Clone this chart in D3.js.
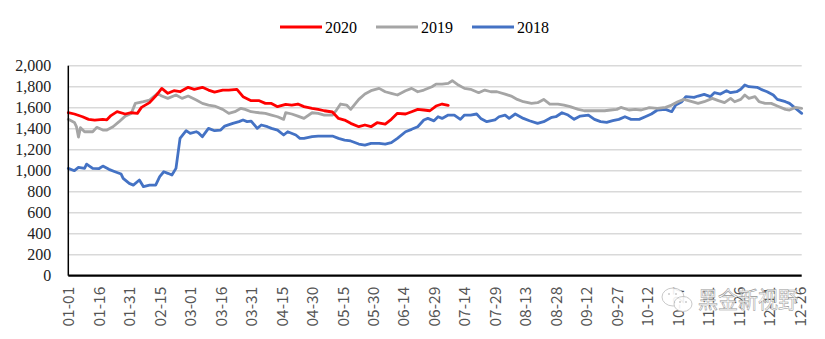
<!DOCTYPE html>
<html>
<head>
<meta charset="utf-8">
<script src="https://cdn.jsdelivr.net/npm/d3@7/dist/d3.min.js"></script>
<style>
  html, body { margin: 0; padding: 0; background: #fff; }
  svg { display: block; }
</style>
</head>
<body>
<svg id="chart" width="825" height="339"></svg>
<script>
// Day offsets from 01-01 and daily readings for each year
const seriesNames = ["2020", "2019", "2018"];
const seriesColors = ["#FF0000", "#A5A5A5", "#4472C4"];

const days2020 = [0,3,7,10,13,17,19,21,24,28,31,34,36,40,43,46,49,52,55,59,62,66,69,72,76,79,83,86,90,94,97,100,103,107,110,113,116,120,123,126,130,133,136,139,143,146,149,152,156,159,162,166,169,172,175,178,181,184,187];
const values2020 = [1552,1540,1514,1489,1482,1489,1485,1525,1562,1540,1552,1546,1603,1648,1711,1784,1737,1762,1752,1794,1775,1794,1768,1749,1768,1768,1775,1705,1667,1667,1641,1641,1610,1632,1625,1635,1610,1594,1584,1571,1559,1498,1482,1451,1419,1435,1419,1457,1444,1489,1546,1540,1562,1584,1578,1571,1616,1635,1622];

const days2019 = [0,3,4,5,6,8,12,14,17,19,22,25,28,31,33,37,40,44,46,49,53,56,59,63,66,69,72,76,79,82,85,87,90,94,97,100,103,106,107,110,113,116,120,123,126,130,132,134,137,139,143,146,149,153,156,159,162,166,169,172,175,179,181,184,187,189,192,195,198,202,205,208,211,215,218,221,224,228,231,234,237,241,244,247,251,254,257,261,264,267,270,272,276,279,282,286,290,294,297,300,303,307,310,313,317,320,323,326,328,331,333,335,338,340,343,346,349,353,355,358,361];
const values2019 = [1489,1460,1420,1320,1410,1371,1371,1413,1387,1387,1419,1467,1520,1546,1641,1657,1673,1737,1711,1689,1721,1689,1711,1673,1641,1625,1616,1584,1546,1562,1594,1584,1562,1552,1546,1530,1514,1489,1552,1540,1520,1498,1552,1546,1530,1530,1578,1635,1625,1584,1679,1730,1762,1784,1752,1737,1721,1762,1784,1752,1768,1800,1825,1825,1832,1857,1816,1784,1775,1743,1768,1752,1752,1730,1711,1679,1657,1641,1648,1679,1635,1635,1625,1610,1584,1571,1571,1571,1571,1578,1584,1603,1578,1584,1578,1600,1594,1603,1625,1657,1679,1657,1641,1657,1689,1667,1648,1689,1657,1679,1721,1689,1705,1657,1641,1641,1616,1584,1578,1603,1594];

const days2018 = [0,3,5,8,9,12,15,17,20,23,26,27,30,32,35,37,40,43,45,47,49,51,53,54,55,58,60,63,64,66,69,72,75,77,81,84,86,88,90,93,95,98,100,103,106,108,112,114,116,120,123,126,130,133,136,139,143,146,149,153,156,159,162,166,169,172,175,177,180,182,184,187,190,193,195,198,201,203,206,210,212,215,217,220,224,227,231,234,238,240,243,246,249,252,256,259,262,265,268,271,274,277,281,284,287,290,294,297,299,302,304,308,310,313,316,318,321,324,326,329,331,333,335,339,341,344,347,349,353,355,358,361];
const values2018 = [1022,1000,1032,1022,1063,1022,1019,1044,1013,990,968,927,879,863,911,848,863,863,943,990,975,959,1022,1165,1308,1381,1356,1371,1362,1324,1403,1381,1387,1425,1451,1467,1483,1467,1473,1403,1435,1419,1403,1387,1340,1371,1340,1308,1308,1324,1330,1330,1330,1308,1292,1283,1254,1244,1260,1260,1254,1267,1308,1371,1394,1419,1483,1498,1475,1514,1498,1530,1530,1489,1530,1530,1540,1498,1467,1483,1514,1530,1498,1540,1498,1476,1451,1467,1508,1514,1552,1530,1489,1520,1530,1489,1467,1460,1476,1489,1514,1489,1489,1514,1540,1578,1584,1562,1625,1657,1705,1698,1711,1727,1705,1743,1730,1762,1743,1752,1775,1816,1800,1794,1775,1752,1721,1679,1657,1641,1594,1546];

// Axis settings
const yTicks = [0,200,400,600,800,1000,1200,1400,1600,1800,2000];
const xTickLabels = ["01-01","01-16","01-31","02-15","03-01","03-16","03-31","04-15","04-30","05-15","05-30","06-14","06-29","07-14","07-29","08-13","08-28","09-12","09-27","10-12","10-27","11-11","11-26","12-11","12-26"];
const xTickStep = 15;
const lastDay = 361;
const watermarkText = "黑金新视野";

const dayArrays = [days2020, days2019, days2018];
const valueArrays = [values2020, values2019, values2018];

const svg = d3.select("#chart");

const plot = { left: 68.3, right: 801.7, top: 65.7, bottom: 275.7 };

const x = d3.scaleLinear().domain([0, lastDay]).range([plot.left, plot.right]);
const y = d3.scaleLinear().domain([0, 2000]).range([plot.bottom, plot.top]);

// Horizontal gridlines
svg.append("g")
  .selectAll("line")
  .data(yTicks.filter(t => t > 0))
  .join("line")
  .attr("x1", plot.left)
  .attr("x2", plot.right)
  .attr("y1", d => y(d))
  .attr("y2", d => y(d))
  .attr("stroke", "#d9d9d9")
  .attr("stroke-width", 1.4);

// Y axis labels
const yAxis = d3.axisLeft(y)
  .tickValues(yTicks)
  .tickFormat(d3.format(","))
  .tickSize(0)
  .tickPadding(17);
const gy = svg.append("g")
  .attr("transform", `translate(${plot.left},0)`)
  .call(yAxis);
gy.select(".domain").remove();
gy.selectAll("text")
  .attr("font-family", "'Liberation Serif', 'Times New Roman', serif")
  .attr("font-size", 16)
  .attr("fill", "#222");

// Series lines
const line = d3.line()
  .x(d => x(d[0]))
  .y(d => y(d[1]));

seriesNames.slice().reverse().forEach((name, ri) => {
  const i = seriesNames.length - 1 - ri;
  const pts = dayArrays[i].map((dd, k) => [dd, valueArrays[i][k]]);
  svg.append("path")
    .datum(pts)
    .attr("d", line)
    .attr("fill", "none")
    .attr("stroke", seriesColors[i])
    .attr("stroke-width", 2.8)
    .attr("stroke-linejoin", "round")
    .attr("stroke-linecap", "round");
});

// Axis lines
svg.append("line")
  .attr("x1", plot.left).attr("x2", plot.left)
  .attr("y1", plot.top).attr("y2", plot.bottom)
  .attr("stroke", "#000").attr("stroke-width", 1.5);

const xAxis = d3.axisBottom(x)
  .tickValues(xTickLabels.map((_, i) => i * xTickStep))
  .tickFormat((d, i) => xTickLabels[i])
  .tickSize(0)
  .tickPadding(0);
const gx = svg.append("g")
  .attr("transform", `translate(0,${plot.bottom})`)
  .call(xAxis);
gx.select(".domain")
  .attr("d", `M${plot.left},0H${plot.right}`)
  .attr("stroke", "#000")
  .attr("stroke-width", 2.2);
gx.selectAll("text")
  .attr("font-family", "'Noto Sans CJK SC', 'Noto Sans', sans-serif")
  .attr("font-size", 15.5)
  .attr("fill", "#555")
  .attr("text-anchor", "end")
  .attr("y", 0)
  .attr("dy", "0.35em")
  .attr("transform", "translate(0,11) rotate(-90)");

// Legend
const legend = svg.append("g");
const legendX = [280, 376, 472];
seriesNames.forEach((name, i) => {
  legend.append("line")
    .attr("x1", legendX[i]).attr("x2", legendX[i] + 42)
    .attr("y1", 27).attr("y2", 27)
    .attr("stroke", seriesColors[i])
    .attr("stroke-width", 3);
  legend.append("text")
    .attr("x", legendX[i] + 45)
    .attr("y", 27)
    .attr("dy", "0.35em")
    .attr("font-family", "'Liberation Serif', 'Times New Roman', serif")
    .attr("font-size", 16)
    .attr("fill", "#000")
    .text(name);
});

// Watermark: chat-bubble logo and account name
const wm = svg.append("g").attr("opacity", 0.9);
wm.append("ellipse")
  .attr("cx", 673).attr("cy", 297).attr("rx", 11).attr("ry", 9)
  .attr("fill", "#fff").attr("stroke", "#c4c4c4").attr("stroke-width", 1);
wm.append("ellipse")
  .attr("cx", 683).attr("cy", 304).attr("rx", 9).attr("ry", 7.5)
  .attr("fill", "#fff").attr("stroke", "#c4c4c4").attr("stroke-width", 1);
[[669, 294], [676, 294], [680, 302], [686, 302]].forEach(p => {
  wm.append("circle").attr("cx", p[0]).attr("cy", p[1]).attr("r", 1)
    .attr("fill", "#c4c4c4");
});
wm.append("text")
  .attr("x", 698)
  .attr("y", 300)
  .attr("dy", "0.35em")
  .attr("font-family", "'Noto Sans CJK SC', sans-serif")
  .attr("font-size", 23)
  .attr("textLength", 100)
  .attr("lengthAdjust", "spacingAndGlyphs")
  .attr("fill", "#fff")
  .attr("stroke", "#8a8a8a")
  .attr("stroke-width", 0.55)
  .text(watermarkText);
</script>
</body>
</html>
